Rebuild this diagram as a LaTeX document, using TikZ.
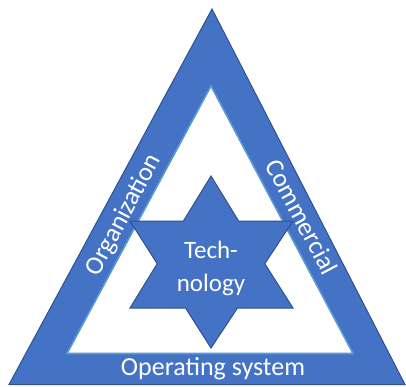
\documentclass[tikz,border=0pt]{standalone}
\usepackage{fontspec}
\setmainfont{Carlito}
\definecolor{bandblue}{HTML}{4472C4}
\definecolor{edgeblue}{HTML}{2F528F}
\definecolor{lightedge}{HTML}{5B9BD5}
\tikzset{
  band/.style={fill=bandblue, draw=edgeblue, line width=1pt, line join=miter},
  hole/.style={fill=white, draw=lightedge, line width=1.6pt, line join=miter},
  starshape/.style={fill=bandblue, draw=edgeblue, line width=1pt, line join=miter},
  lbl/.style={text=white, font=\fontsize{26}{33}\selectfont, inner sep=0pt}
}
\begin{document}
\begin{tikzpicture}[x=1pt,y=-1pt]
\useasboundingbox (0,0) rectangle (406,386);
% outer triangle
\draw[band] (212,9) -- (9,384.5) -- (405,384.5) -- cycle;
% inner white triangle
\draw[hole] (211,86) -- (67,353.5) -- (353,353.5) -- cycle;
% six-pointed star
\draw[starshape] (211,176) -- (238.6,221) -- (293,221) -- (264.8,263.7) -- (293,308)
  -- (237.5,308) -- (211,348) -- (185.5,308) -- (130,308) -- (157.2,263.7)
  -- (130,221) -- (183.4,221) -- cycle;
% labels
\node[lbl, rotate=62] (org) at (124,215) {Organization};
\node[lbl, rotate=-62] (com) at (302,217) {Commercial};
\node[lbl, anchor=base] (os) at (213,375) {Operating system};
\node[lbl, align=center, font=\fontsize{25}{33}\selectfont] (tech) at (211,268) {Tech-\\nology};
\end{tikzpicture}
\end{document}
